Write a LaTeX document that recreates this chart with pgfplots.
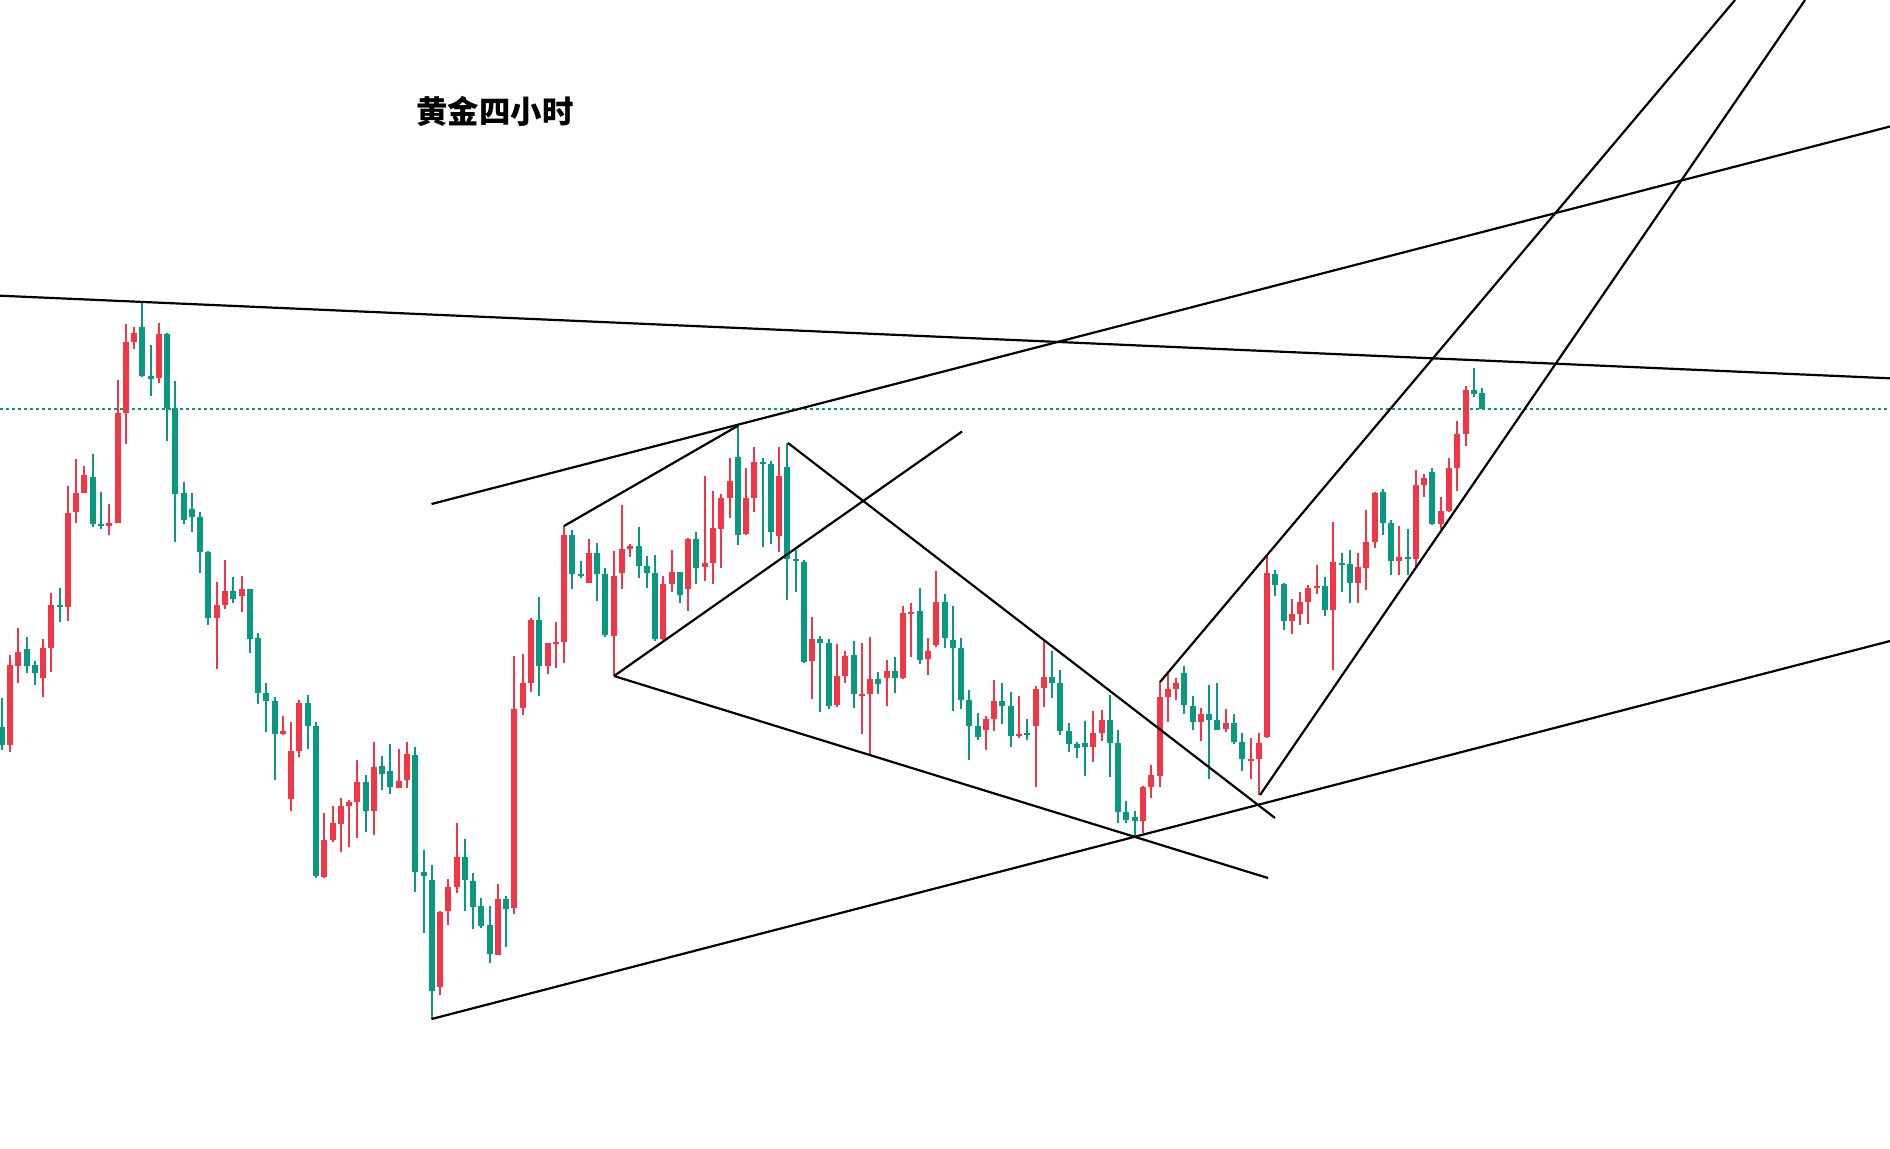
\documentclass[border=0pt]{standalone}
\usepackage{pgfplots}
\pgfplotsset{compat=1.18}
\usepackage{pgfplotstable}
\usepackage{fontspec}
\newfontfamily\cjk{Noto Sans CJK SC}
\definecolor{cred}{HTML}{F23645}
\definecolor{cgreen}{HTML}{089981}

% candles: i = bar index, h = high, bt = body top, bb = body bottom, l = low
% values in chart rows (larger = lower price, axis reversed), r = 1 rising (red), 0 falling (green)
\pgfplotstableread{
i h bt bb l r
-1 698 727 745 750 0
0 655 665 745 752 1
1 628 652 666 683 1
2 637 649 666 673 0
3 661 665 673 685 0
4 639 648 678 697 1
5 593 605 648 672 1
6 588 605 607 622 0
7 486 513 607 621 1
8 459 493 512 523 1
9 466 475 493 493 1
10 454 477 524 527 0
11 492 524 526 529 0
12 504 523 526 535 1
13 380 413 523 523 1
14 324 342 413 444 1
15 327 333 342 349 1
16 303 327 376 377 0
17 345 376 379 396 0
18 323 334 378 383 1
19 333 334 408 441 0
20 381 408 494 542 0
21 482 493 520 524 0
22 493 509 517 532 0
23 512 517 552 573 0
24 551 552 618 625 0
25 582 605 618 669 1
26 560 591 605 609 1
27 577 591 599 603 0
28 576 589 596 612 1
29 589 589 639 653 0
30 633 638 693 704 0
31 683 693 701 732 0
32 697 701 734 780 0
33 716 731 734 735 1
34 722 751 799 811 1
35 700 703 751 757 1
36 695 703 726 749 0
37 722 726 876 878 0
38 813 840 877 878 1
39 806 823 840 842 1
40 798 806 824 852 1
41 800 802 806 847 1
42 760 782 802 838 1
43 775 782 811 832 0
44 742 767 811 835 1
45 756 766 774 790 0
46 744 771 787 794 0
47 749 781 788 788 1
48 742 754 780 788 1
49 747 755 872 892 0
50 850 872 876 933 0
51 865 880 991 1019 0
52 911 912 987 995 1
53 879 887 911 925 1
54 823 857 887 893 1
55 839 857 880 911 0
56 873 881 907 929 0
57 898 906 926 928 0
58 906 925 954 963 0
59 884 899 955 955 1
60 896 899 909 947 0
61 656 709 908 914 1
62 654 683 708 715 1
63 618 620 683 692 1
64 597 620 666 696 0
65 643 643 666 674 1
66 622 642 643 668 1
67 526 535 642 663 1
68 530 535 574 589 0
69 561 574 576 578 0
70 539 553 583 583 1
71 543 553 574 601 0
72 568 574 635 637 0
73 551 576 636 676 1
74 505 549 573 589 1
75 544 546 549 557 1
76 527 546 566 578 0
77 556 566 573 588 0
78 555 573 639 641 0
79 576 584 639 640 1
80 550 572 584 592 1
81 572 572 595 603 0
82 538 539 589 611 1
83 532 539 568 584 0
84 476 563 567 581 1
85 491 528 563 584 1
86 494 498 529 568 1
87 458 481 498 518 1
88 426 457 535 545 0
89 468 498 534 535 1
90 447 462 498 512 1
91 458 462 464 547 0
92 461 464 532 544 0
93 447 476 536 552 1
94 443 467 559 600 0
95 550 559 561 592 0
96 560 562 662 663 0
97 617 639 661 699 1
98 636 639 643 712 0
99 639 643 706 709 0
100 644 676 705 707 1
101 651 656 676 683 1
102 641 655 694 708 0
103 643 694 696 734 1
104 637 679 694 754 1
105 672 679 684 694 0
106 660 671 678 706 1
107 657 671 678 693 0
108 606 613 678 679 1
109 603 612 614 657 1
110 588 611 660 664 0
111 638 651 659 675 1
112 571 602 645 647 1
113 594 602 638 648 0
114 606 640 648 711 0
115 638 648 700 709 0
116 690 700 726 760 0
117 713 726 737 740 0
118 716 719 730 750 1
119 680 701 719 731 1
120 683 701 706 724 0
121 692 706 736 747 0
122 696 734 736 738 1
123 719 733 735 740 0
124 686 689 726 787 1
125 640 677 688 707 1
126 651 677 683 698 0
127 670 683 731 735 0
128 723 731 744 752 0
129 742 744 748 758 0
130 721 743 747 776 0
131 711 733 747 762 1
132 710 720 733 741 1
133 695 720 743 777 0
134 730 743 812 823 0
135 801 812 820 823 0
136 811 817 821 837 0
137 786 787 821 833 1
138 765 775 787 798 1
139 682 697 776 787 1
140 673 689 697 722 1
141 678 683 689 700 1
142 666 673 705 714 0
143 696 706 722 730 0
144 708 714 722 741 1
145 685 714 720 779 0
146 683 720 730 730 0
147 709 723 729 732 1
148 714 723 742 744 0
149 733 742 759 771 0
150 738 759 761 779 1
151 733 743 759 795 1
152 556 573 737 738 1
153 570 574 585 596 0
154 583 584 621 630 0
155 599 614 621 634 1
156 592 602 614 625 1
157 585 588 602 624 1
158 565 586 588 594 1
159 577 586 610 616 0
160 522 562 610 670 1
161 553 563 565 592 0
162 550 564 583 603 0
163 553 567 583 603 1
164 510 542 568 590 1
165 492 493 542 548 1
166 489 492 523 535 0
167 520 523 561 575 0
168 526 557 561 575 1
169 529 557 559 575 0
170 470 485 559 567 1
171 474 478 485 497 1
172 468 472 524 525 0
173 497 511 524 529 1
174 458 468 511 512 1
175 421 434 468 491 1
176 386 390 434 446 1
177 368 390 394 397 0
178 388 393 409 409 0
}\candles

\pgfplotsset{
  wick/.style={draw=none, mark=none, forget plot,
    error bars/.cd, y dir=both, y explicit, error mark=none,
    error bar style={draw=#1, solid, line width=0.5pt}},
  body/.style={draw=none, mark=none, forget plot,
    error bars/.cd, y dir=both, y explicit, error mark=none,
    error bar style={draw=#1, solid, line width=1.5pt}},
  trend/.style={black, line width=0.55pt, no marks, forget plot},
}

\begin{document}
\begin{tikzpicture}
\begin{axis}[
  width=472.5pt, height=287pt, scale only axis,
  xmin=0, xmax=1890, ymin=0, ymax=1148, y dir=reverse,
  hide axis, clip=true,
]
\path (rel axis cs:0,0) rectangle (rel axis cs:1,1);

% last price dotted line
\addplot[cgreen, line width=0.5pt, dash pattern=on 0.7pt off 0.8pt, no marks, forget plot]
  coordinates {(0,409) (1890,409)};

% green (falling) candles
\addplot[restrict expr to domain={\thisrow{r}}{0:0}, wick=cgreen] table[
  x expr=10+8.27*\thisrow{i},
  y expr=(\thisrow{h}+\thisrow{l})/2,
  y error plus expr=(\thisrow{l}-\thisrow{h})/2,
  y error minus expr=(\thisrow{l}-\thisrow{h})/2] {\candles};
\addplot[restrict expr to domain={\thisrow{r}}{0:0}, body=cgreen] table[
  x expr=10+8.27*\thisrow{i},
  y expr=(\thisrow{bt}+\thisrow{bb})/2,
  y error plus expr={max((\thisrow{bb}-\thisrow{bt})/2,0.9)},
  y error minus expr={max((\thisrow{bb}-\thisrow{bt})/2,0.9)}] {\candles};
% red (rising) candles
\addplot[restrict expr to domain={\thisrow{r}}{1:1}, wick=cred] table[
  x expr=10+8.27*\thisrow{i},
  y expr=(\thisrow{h}+\thisrow{l})/2,
  y error plus expr=(\thisrow{l}-\thisrow{h})/2,
  y error minus expr=(\thisrow{l}-\thisrow{h})/2] {\candles};
\addplot[restrict expr to domain={\thisrow{r}}{1:1}, body=cred] table[
  x expr=10+8.27*\thisrow{i},
  y expr=(\thisrow{bt}+\thisrow{bb})/2,
  y error plus expr={max((\thisrow{bb}-\thisrow{bt})/2,0.9)},
  y error minus expr={max((\thisrow{bb}-\thisrow{bt})/2,0.9)}] {\candles};

% trend lines
\addplot[trend] coordinates {(0,295.7) (1890,378.3)};
\addplot[trend] coordinates {(431.5,504) (1890,126.5)};
\addplot[trend] coordinates {(431.5,1019) (1890,641)};
\addplot[trend] coordinates {(564,526) (738,425.7)};
\addplot[trend] coordinates {(614,676) (962,431.5)};
\addplot[trend] coordinates {(614,676) (1268,878)};
\addplot[trend] coordinates {(788,443) (1275,818)};
\addplot[trend] coordinates {(1160,682) (1735,0)};
\addplot[trend] coordinates {(1260,795) (1805,0)};

\node[anchor=center, inner sep=0pt] at (axis cs:495,111)
  {\cjk\bfseries\fontsize{7.85pt}{9pt}\selectfont 黄金四小时};
\end{axis}
\end{tikzpicture}
\end{document}
